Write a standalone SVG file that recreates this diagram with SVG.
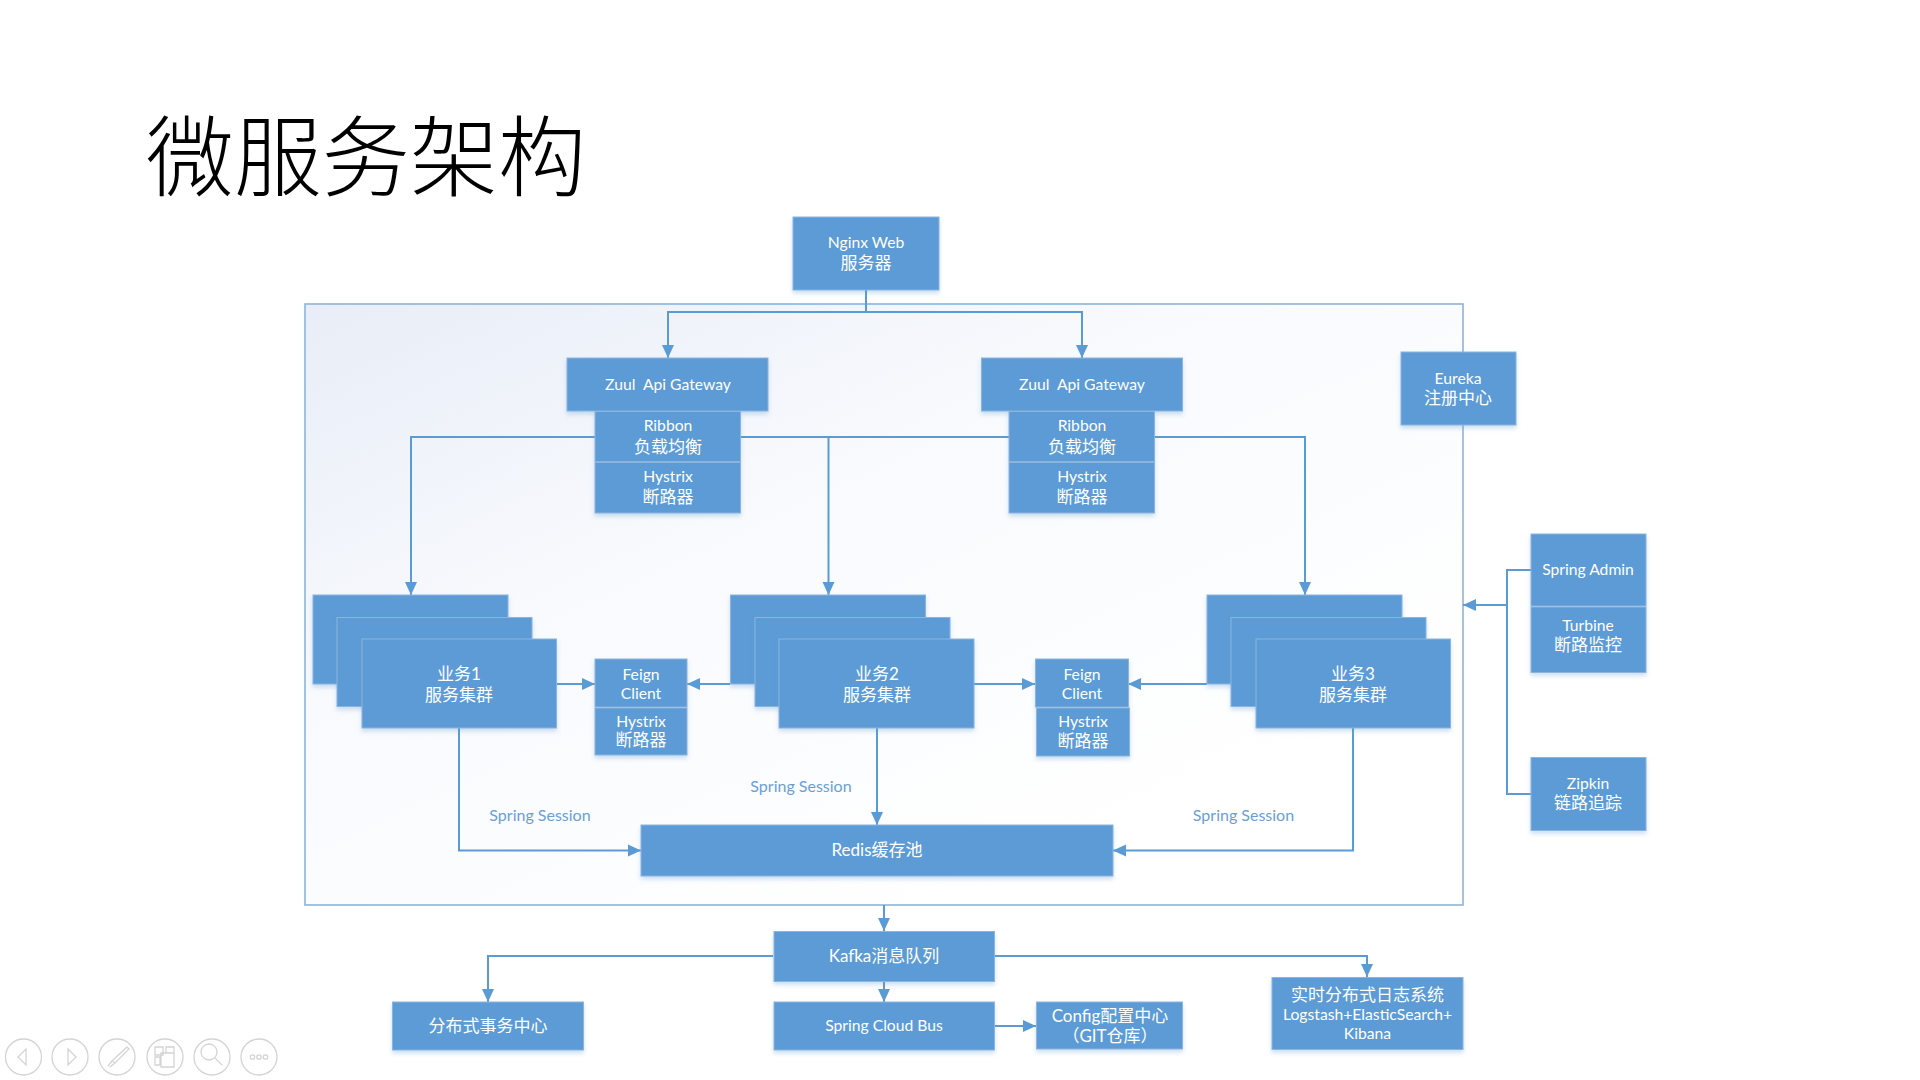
<svg xmlns="http://www.w3.org/2000/svg" width="1920" height="1080" viewBox="0 0 1920 1080">
<style>
text{font-family:"Lato","Noto Sans CJK SC",sans-serif;text-anchor:middle}
.b{fill:#5b9bd5;stroke:#8db4de;stroke-width:1;filter:url(#sh)}
.t{fill:#ffffff;font-size:15.700px}
.cn{font-size:17px}
.s{fill:#6a9fd6;font-size:16px}
.c{fill:none;stroke:#5b9bd5;stroke-width:2}
.i{fill:none;stroke:#d4d4d4;stroke-width:1.3}
</style>
<defs>
<linearGradient id="g" x1="0" y1="0" x2="0.75" y2="0.85"><stop offset="0" stop-color="#e8edf7"/><stop offset="0.45" stop-color="#f8fafd"/><stop offset="1" stop-color="#ffffff"/></linearGradient>
<filter id="sh" x="-10%" y="-10%" width="120%" height="125%"><feDropShadow dx="0" dy="3" stdDeviation="2" flood-color="#5b9bd5" flood-opacity="0.3"/></filter>
<marker id="a" markerUnits="userSpaceOnUse" markerWidth="14" markerHeight="14" refX="13" refY="7" orient="auto"><path d="M0 1L13 7L0 13Z" fill="#5b9bd5"/></marker>
</defs>
<rect width="1920" height="1080" fill="#ffffff"/>
<text x="366" y="189" style="font-family:'Liberation Serif','Noto Sans CJK SC',serif;font-size:88px;font-weight:300" fill="#000000">微服务架构</text>
<rect id="frame" x="305" y="304" width="1158" height="601" fill="url(#g)" stroke="#8db4d8" stroke-width="1.6"/>
<g id="connectors">
<path class="c" d="M866 290V312"/>
<path class="c" marker-end="url(#a)" d="M866 312H668V358"/>
<path class="c" marker-end="url(#a)" d="M866 312H1082V358"/>
<path class="c" marker-end="url(#a)" d="M595 437H411V595"/>
<path class="c" d="M740 437H1009"/>
<path class="c" marker-end="url(#a)" d="M828.500 437V595"/>
<path class="c" marker-end="url(#a)" d="M1155 437H1305V595"/>
<path class="c" marker-end="url(#a)" d="M556 684H595"/>
<path class="c" marker-end="url(#a)" d="M730 684H687"/>
<path class="c" marker-end="url(#a)" d="M974 684H1035"/>
<path class="c" marker-end="url(#a)" d="M1207 684H1128"/>
<path class="c" marker-end="url(#a)" d="M459 728V850.500H641"/>
<path class="c" marker-end="url(#a)" d="M877 728V825"/>
<path class="c" marker-end="url(#a)" d="M1353 728V850.500H1113"/>
<path class="c" d="M1531 570H1507V794H1531"/>
<path class="c" marker-end="url(#a)" d="M1507 605H1463"/>
<path class="c" marker-end="url(#a)" d="M884 905V931"/>
<path class="c" marker-end="url(#a)" d="M884 981V1002"/>
<path class="c" marker-end="url(#a)" d="M773 956H488V1002"/>
<path class="c" marker-end="url(#a)" d="M994 956H1367V977"/>
<path class="c" marker-end="url(#a)" d="M994 1026H1036"/>
</g>
<g id="nginx"><rect class="b" x="793" y="217" width="146" height="73"/><text class="t" x="866" y="248">Nginx Web</text><text class="t cn" x="866" y="269">服务器</text></g>
<g id="zuul1"><rect class="b" x="567" y="358" width="201" height="53"/><text class="t" x="668" y="390" xml:space="preserve">Zuul  Api Gateway</text></g>
<g id="ribbon1"><rect class="b" x="595" y="411.500" width="145.500" height="50"/><text class="t" x="668" y="431">Ribbon</text><text class="t cn" x="668" y="453">负载均衡</text></g>
<g id="hystrix1"><rect class="b" x="595" y="462.500" width="145.500" height="50.500"/><text class="t" x="668" y="482">Hystrix</text><text class="t cn" x="668" y="503">断路器</text></g>
<g id="zuul2"><rect class="b" x="981.500" y="358" width="201" height="53"/><text class="t" x="1082" y="390" xml:space="preserve">Zuul  Api Gateway</text></g>
<g id="ribbon2"><rect class="b" x="1009" y="411.500" width="145.500" height="50"/><text class="t" x="1082" y="431">Ribbon</text><text class="t cn" x="1082" y="453">负载均衡</text></g>
<g id="hystrix2"><rect class="b" x="1009" y="462.500" width="145.500" height="50.500"/><text class="t" x="1082" y="482">Hystrix</text><text class="t cn" x="1082" y="503">断路器</text></g>
<g id="eureka"><rect class="b" x="1401" y="352" width="115" height="73"/><text class="t" x="1458" y="384">Eureka</text><text class="t cn" x="1458" y="404">注册中心</text></g>
<g id="spring-admin"><rect class="b" x="1531" y="534" width="115" height="72"/><text class="t" x="1588" y="575">Spring Admin</text></g>
<g id="turbine"><rect class="b" x="1531" y="607" width="115" height="65.500"/><text class="t" x="1588" y="631">Turbine</text><text class="t cn" x="1588" y="651">断路监控</text></g>
<g id="zipkin"><rect class="b" x="1531" y="757.500" width="115" height="73"/><text class="t" x="1588" y="789">Zipkin</text><text class="t cn" x="1588" y="809">链路追踪</text></g>
<g id="biz1"><rect class="b" x="313" y="595" width="195" height="89"/><rect class="b" x="337" y="617.500" width="195" height="89"/><rect class="b" x="362" y="639" width="194.500" height="89"/><text class="t cn" x="459" y="680">业务1</text><text class="t cn" x="459" y="701">服务集群</text></g>
<g id="biz2"><rect class="b" x="730.500" y="595" width="195" height="89"/><rect class="b" x="755" y="617.500" width="195" height="89"/><rect class="b" x="779" y="639" width="195" height="89"/><text class="t cn" x="877" y="680">业务2</text><text class="t cn" x="877" y="701">服务集群</text></g>
<g id="biz3"><rect class="b" x="1207" y="595" width="195" height="89"/><rect class="b" x="1231" y="617.500" width="195" height="89"/><rect class="b" x="1256" y="639" width="194.500" height="89"/><text class="t cn" x="1353" y="680">业务3</text><text class="t cn" x="1353" y="701">服务集群</text></g>
<g id="feign1"><rect class="b" x="595" y="659" width="92" height="48"/><text class="t" x="641" y="680">Feign</text><text class="t" x="641" y="699">Client</text></g>
<g id="feign1-hystrix"><rect class="b" x="595" y="708" width="92" height="47"/><text class="t" x="641" y="727">Hystrix</text><text class="t cn" x="641" y="746">断路器</text></g>
<g id="feign2"><rect class="b" x="1035.500" y="659" width="93" height="48"/><text class="t" x="1082" y="680">Feign</text><text class="t" x="1082" y="699">Client</text></g>
<g id="feign2-hystrix"><rect class="b" x="1036.500" y="708" width="93" height="48"/><text class="t" x="1083" y="727">Hystrix</text><text class="t cn" x="1083" y="747">断路器</text></g>
<g id="redis"><rect class="b" x="641" y="825" width="472" height="51"/><text class="t cn" x="877" y="856">Redis缓存池</text></g>
<g id="kafka"><rect class="b" x="774" y="931.500" width="220.500" height="50"/><text class="t cn" x="884" y="962">Kafka消息队列</text></g>
<g id="tx"><rect class="b" x="392.500" y="1002" width="191" height="48"/><text class="t cn" x="488" y="1032">分布式事务中心</text></g>
<g id="bus"><rect class="b" x="774" y="1002" width="220.500" height="48"/><text class="t" x="884" y="1031">Spring Cloud Bus</text></g>
<g id="config"><rect class="b" x="1036.500" y="1002" width="146" height="47"/><text class="t cn" x="1110" y="1022">Config配置中心</text><text class="t cn" x="1110" y="1042">（GIT仓库）</text></g>
<g id="logs"><rect class="b" x="1272" y="977.500" width="191" height="72"/><text class="t cn" x="1367.500" y="1001">实时分布式日志系统</text><text class="t" x="1367.500" y="1020">Logstash+ElasticSearch+</text><text class="t" x="1367.500" y="1039">Kibana</text></g>
<g id="labels"><text class="s" x="540" y="821">Spring Session</text><text class="s" x="801" y="792">Spring Session</text><text class="s" x="1243.500" y="821">Spring Session</text></g>
<g id="toolbar">
<circle class="i" cx="23.500" cy="1057" r="18"/><path class="i" d="M26 1049L18 1057L26 1065Z"/>
<circle class="i" cx="70" cy="1057" r="18"/><path class="i" d="M68 1049L76 1057L68 1065Z"/>
<circle class="i" cx="117" cy="1057" r="18"/><path class="i" d="M127 1047L129 1049L115 1063L112 1061ZM112 1061L108 1066M115 1063L110 1067"/>
<circle class="i" cx="165" cy="1057" r="18"/><path class="i" d="M155 1047h8v8h-8zM166 1047h8v6h-8zM155 1057h5v8h-5zM161 1053h13v14h-13z"/>
<circle class="i" cx="212" cy="1057" r="18"/><circle class="i" cx="209" cy="1052" r="8"/><path class="i" d="M215 1058L222 1065"/>
<circle class="i" cx="259" cy="1057" r="18"/><circle class="i" cx="252.500" cy="1057" r="2.200"/><circle class="i" cx="259" cy="1057" r="2.200"/><circle class="i" cx="265.500" cy="1057" r="2.200"/>
</g>
</svg>
